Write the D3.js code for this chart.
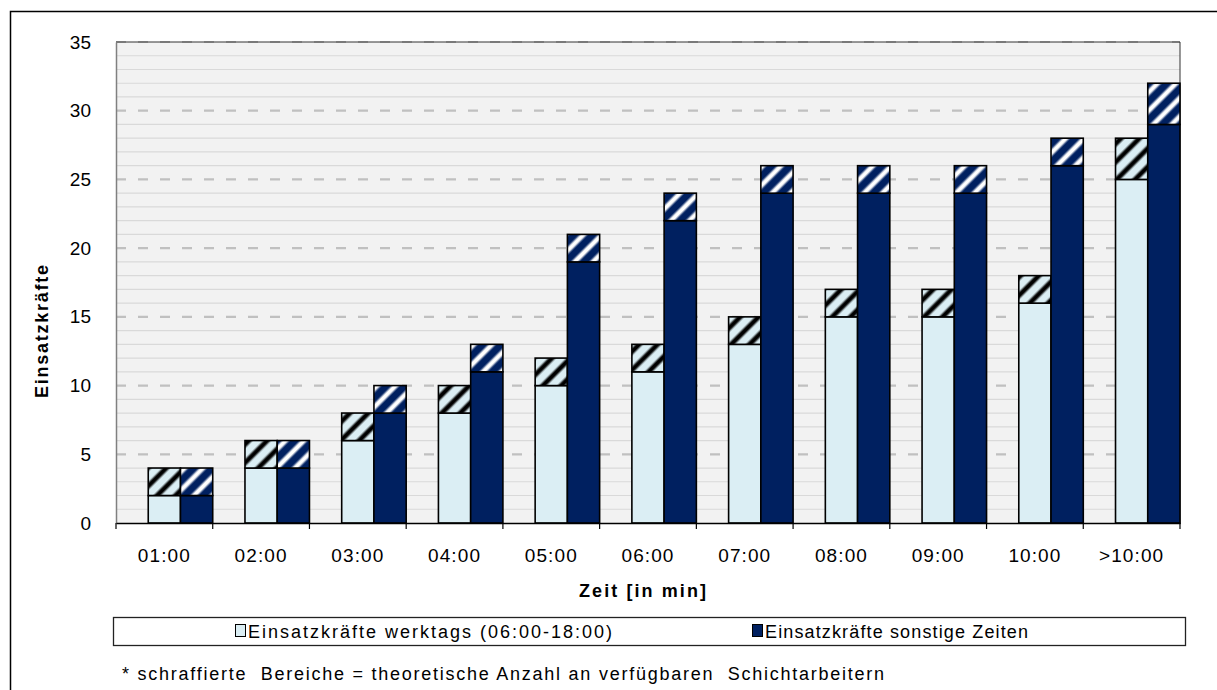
<!DOCTYPE html>
<html>
<head>
<meta charset="utf-8">
<script src="https://cdn.jsdelivr.net/npm/d3@7"></script>
<style>
  html, body { margin: 0; padding: 0; background: #fff; }
  svg { display: block; font-family: "Liberation Sans", Arial, sans-serif; }
</style>
</head>
<body>
<svg id="chart" width="1217" height="690"></svg>
<script>
// Response time categories and staff counts
const categories = ["01:00", "02:00", "03:00", "04:00", "05:00", "06:00", "07:00", "08:00", "09:00", "10:00", ">10:00"];
const werktags = [2, 4, 6, 8, 10, 11, 13, 15, 15, 16, 25];
const werktagsSchicht = [2, 2, 2, 2, 2, 2, 2, 2, 2, 2, 3];
const sonstige = [2, 4, 8, 11, 19, 22, 24, 24, 24, 26, 29];
const sonstigeSchicht = [2, 2, 2, 2, 2, 2, 2, 2, 2, 2, 3];
const yTicks = [0, 5, 10, 15, 20, 25, 30, 35];
const legendLabels = ["Einsatzkräfte werktags (06:00-18:00)", "Einsatzkräfte sonstige Zeiten"];
const footnote = "* schraffierte  Bereiche = theoretische Anzahl an verfügbaren  Schichtarbeitern";

const colLight = "#dbeef4";
const colDark = "#002060";
const FONT = 18;
const TICK_FONT = 19;

const svg = d3.select("#chart");
const plot = { left: 116, right: 1180, top: 42, bottom: 523 };

// outer frame
svg.append("rect")
  .attr("x", 10.5).attr("y", 11.5)
  .attr("width", 1230).attr("height", 700)
  .attr("fill", "#fff").attr("stroke", "#000").attr("stroke-width", 1.5);

const defs = svg.append("defs");
function hatch(id, bg, stripe) {
  const g = defs.append("linearGradient").attr("id", id + "-g")
    .attr("x1", "0%").attr("x2", "100%").attr("y1", "0%").attr("y2", "0%");
  g.append("stop").attr("offset", "0%").attr("stop-color", bg);
  g.append("stop").attr("offset", "30%").attr("stop-color", stripe);
  g.append("stop").attr("offset", "70%").attr("stop-color", stripe);
  g.append("stop").attr("offset", "100%").attr("stop-color", bg);
  const p = defs.append("pattern").attr("id", id)
    .attr("patternUnits", "userSpaceOnUse")
    .attr("width", 13).attr("height", 13)
    .attr("patternTransform", "rotate(45)");
  p.append("rect").attr("width", 13).attr("height", 13).attr("fill", bg);
  p.append("rect").attr("x", 3).attr("width", 7).attr("height", 13).attr("fill", `url(#${id}-g)`);
}
hatch("hatchLight", colLight, "#000");
hatch("hatchDark", colDark, "#fff");

const x = d3.scaleBand().domain(categories).range([plot.left, plot.right]).padding(0);
const y = d3.scaleLinear().domain([0, 35]).range([plot.bottom, plot.top]);
const bw = x.bandwidth();

// plot background
svg.append("rect")
  .attr("x", plot.left).attr("y", plot.top)
  .attr("width", plot.right - plot.left).attr("height", plot.bottom - plot.top)
  .attr("fill", "#f2f2f2");

// minor gridlines every unit
svg.append("g").selectAll("line")
  .data(d3.range(1, 35).filter(v => v % 5 !== 0))
  .join("line")
  .attr("x1", plot.left).attr("x2", plot.right)
  .attr("y1", d => y(d)).attr("y2", d => y(d))
  .attr("stroke", "#d9d9d9").attr("stroke-width", 1.2);

// major dashed gridlines
svg.append("g").selectAll("line")
  .data(yTicks.filter(v => v > 0))
  .join("line")
  .attr("x1", plot.left).attr("x2", plot.right)
  .attr("y1", d => y(d)).attr("y2", d => y(d))
  .attr("stroke", "#c0c0c0").attr("stroke-width", 2.2)
  .attr("stroke-dasharray", "10,12");

// top & right plot border
svg.append("path")
  .attr("d", `M${plot.left},${plot.top}H${plot.right}V${plot.bottom}`)
  .attr("fill", "none").attr("stroke", "#333").attr("stroke-width", 1);

// stacked bars
const segs = [];
categories.forEach((c, i) => {
  const xl = x(c) + bw / 3, xd = x(c) + 2 * bw / 3;
  segs.push({ x: xl, y0: 0, y1: werktags[i], fill: colLight });
  segs.push({ x: xl, y0: werktags[i], y1: werktags[i] + werktagsSchicht[i], fill: "url(#hatchLight)" });
  segs.push({ x: xd, y0: 0, y1: sonstige[i], fill: colDark });
  segs.push({ x: xd, y0: sonstige[i], y1: sonstige[i] + sonstigeSchicht[i], fill: "url(#hatchDark)" });
});
svg.append("g").selectAll("rect")
  .data(segs)
  .join("rect")
  .attr("x", d => d.x).attr("width", bw / 3)
  .attr("y", d => y(d.y1)).attr("height", d => y(d.y0) - y(d.y1))
  .attr("fill", d => d.fill)
  .attr("stroke", "#000").attr("stroke-width", 1.6);

// y axis
const yAxis = svg.append("g").attr("transform", `translate(${plot.left},0)`)
  .call(d3.axisLeft(y).tickValues(yTicks).tickSize(0).tickPadding(25));
yAxis.select(".domain").attr("stroke", "#808080").attr("stroke-width", 1.5);
yAxis.selectAll("text").attr("font-size", TICK_FONT).attr("fill", "#000")
  .attr("font-family", "Liberation Sans, Arial, sans-serif");

// x axis
const xAxis = svg.append("g").attr("transform", `translate(0,${plot.bottom})`)
  .call(d3.axisBottom(x).tickSize(0).tickPadding(0));
xAxis.select(".domain").attr("stroke", "#000").attr("stroke-width", 1.5);
xAxis.selectAll("text").attr("font-size", TICK_FONT).attr("fill", "#000")
  .attr("dy", null).attr("y", 39)
  .attr("letter-spacing", "1.1px")
  .attr("font-family", "Liberation Sans, Arial, sans-serif");
svg.append("g").selectAll("line")
  .data(categories.map(c => x(c)).concat([plot.right]))
  .join("line")
  .attr("x1", d => d).attr("x2", d => d)
  .attr("y1", plot.bottom).attr("y2", plot.bottom + 6)
  .attr("stroke", "#000").attr("stroke-width", 1.2);

// axis titles
svg.append("text")
  .attr("x", 579).attr("y", 597)
  .attr("font-size", FONT).attr("font-weight", "bold")
  .attr("textLength", 127).attr("lengthAdjust", "spacing")
  .text("Zeit [in min]");
svg.append("text")
  .attr("transform", `translate(48,398) rotate(-90)`)
  .attr("font-size", FONT).attr("font-weight", "bold")
  .attr("textLength", 133).attr("lengthAdjust", "spacing")
  .text("Einsatzkräfte");

// legend
svg.append("rect")
  .attr("x", 113.5).attr("y", 617.5).attr("width", 1072).attr("height", 28)
  .attr("fill", "#fff").attr("stroke", "#222").attr("stroke-width", 1.3);
const legendItems = [
  { label: legendLabels[0], fill: colLight, x: 235, w: 364 },
  { label: legendLabels[1], fill: colDark, x: 752, w: 263 }
];
const li = svg.append("g").selectAll("g").data(legendItems).join("g")
  .attr("transform", d => `translate(${d.x},624)`);
li.append("rect").attr("x", 0.5).attr("y", 0.5).attr("width", 10).attr("height", 12)
  .attr("fill", d => d.fill).attr("stroke", "#000").attr("stroke-width", 1);
li.append("text").attr("x", 13).attr("y", 13.5).attr("font-size", FONT)
  .attr("textLength", d => d.w).attr("lengthAdjust", "spacing")
  .text(d => d.label);

// footnote
svg.append("text")
  .attr("x", 122).attr("y", 680).attr("font-size", FONT)
  .attr("xml:space", "preserve")
  .style("white-space", "pre")
  .attr("textLength", 762).attr("lengthAdjust", "spacing")
  .text(footnote);
</script>
</body>
</html>
